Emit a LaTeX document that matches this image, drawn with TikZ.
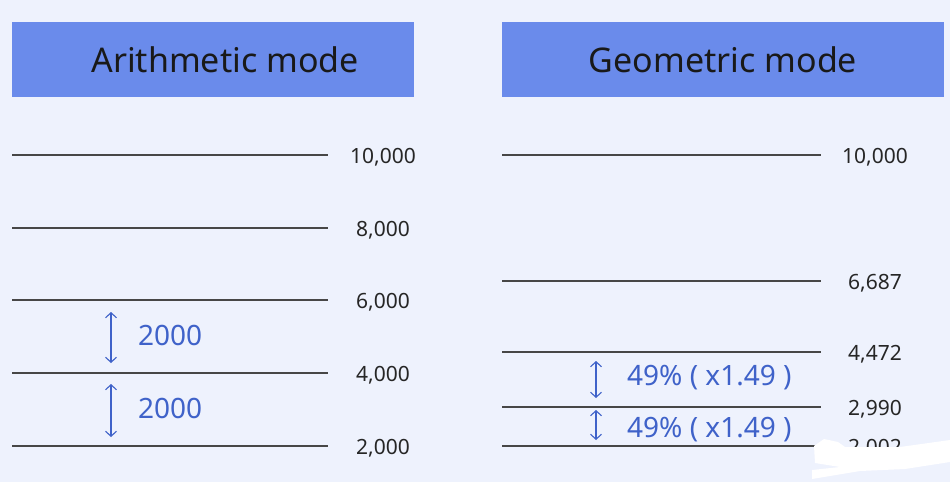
\documentclass[tikz,border=0pt]{standalone}
\usepackage{fontspec}
\setmainfont{Noto Sans}
\usetikzlibrary{arrows.meta}
\definecolor{pageblue}{HTML}{EEF2FD}
\definecolor{headblue}{HTML}{6A8BEB}
\definecolor{stepblue}{HTML}{3F62C9}
\newcommand{\hd}{\fontsize{34}{40}\selectfont}
\newcommand{\nm}{\fontsize{21}{25}\selectfont}
\newcommand{\gp}{\fontsize{28}{33}\selectfont}

\begin{document}
\begin{tikzpicture}[x=1pt,y=-1pt,
   level/.style={draw=black!72,line width=1.3pt},
   numlab/.style={anchor=base,text=black!85,inner sep=0pt},
   steplab/.style={anchor=base west,text=stepblue,inner sep=0pt},
   gap/.style={{Straight Barb[length=5pt,width=11pt]}-{Straight Barb[length=5pt,width=11pt]},draw=stepblue,line width=1.1pt}]
   \fill[pageblue] (0,0) rectangle (950,482);
   \useasboundingbox (0,0) rectangle (950,482);
   % headers
   \fill[headblue] (12,22) rectangle (414,97);
   \fill[headblue] (502,22) rectangle (944,97);
   \node[anchor=base,inner sep=0pt,text=black!90] (hArith) at (225,72) {\hd Arithmetic mode};
   \node[anchor=base,inner sep=0pt,text=black!90] (hGeom)  at (723,72) {\hd Geometric mode};
   % arithmetic levels
   \draw[level] (12,155) -- (328,155);
   \draw[level] (12,228) -- (328,228);
   \draw[level] (12,300) -- (328,300);
   \draw[level] (12,373) -- (328,373);
   \draw[level] (12,446) -- (328,446);
   \node[numlab] (a10) at (383,163) {\nm 10,000};
   \node[numlab] (a8)  at (383,236) {\nm 8,000};
   \node[numlab] (a6)  at (383,308) {\nm 6,000};
   \node[numlab] (a4)  at (383,381) {\nm 4,000};
   \node[numlab] (a2)  at (383,454) {\nm 2,000};
   % geometric levels
   \draw[level] (502,155) -- (821,155);
   \draw[level] (502,281) -- (821,281);
   \draw[level] (502,352) -- (821,352);
   \draw[level] (502,407) -- (821,407);
   \draw[level] (502,446) -- (821,446);
   \node[numlab] (g10) at (875,163) {\nm 10,000};
   \node[numlab] (g6)  at (875,289) {\nm 6,687};
   \node[numlab] (g4)  at (875,360) {\nm 4,472};
   \node[numlab] (g3)  at (875,415) {\nm 2,990};
   \node[numlab] (g2)  at (875,454) {\nm 2,002};
   % steps
   \coordinate (s1t) at (111,312);
   \coordinate (s1b) at (111,363);
   \coordinate (s2t) at (111,384);
   \coordinate (s2b) at (111,437);
   \coordinate (r1t) at (596,361);
   \coordinate (r1b) at (596,398);
   \coordinate (r2t) at (596,410);
   \coordinate (r2b) at (596,440);
   \draw[gap] (s1t) -- (s1b);
   \draw[gap] (s2t) -- (s2b);
   \draw[gap] (r1t) -- (r1b);
   \draw[gap] (r2t) -- (r2b);
   \node[steplab] (d1) at (138,345) {\gp 2000};
   \node[steplab] (d2) at (138,418) {\gp 2000};
   \node[steplab] (q1) at (627,385) {\gp 49\% ( x1.49 )};
   \node[steplab] (q2) at (627,437) {\gp 49\% ( x1.49 )};
   % white smudge over the last label
   \fill[white] (814,446) -- (824,439) -- (838,442) -- (845,447) -- (900,447) -- (950,440)
      -- (950,462) -- (905,469) -- (860,471) -- (812,479) -- (812,470)
      -- (840,467) -- (815,463) -- cycle;
\end{tikzpicture}
\end{document}
